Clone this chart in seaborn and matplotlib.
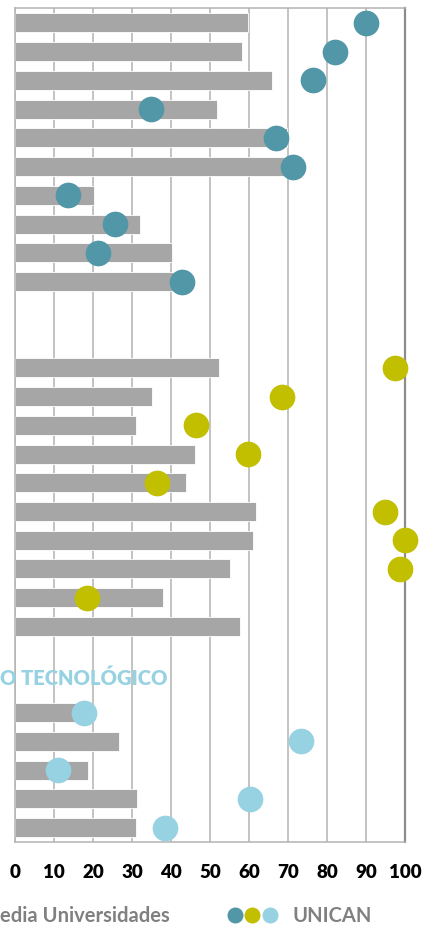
import numpy as np
import pandas as pd
import seaborn as sns
import matplotlib.pyplot as plt
from matplotlib.lines import Line2D
from matplotlib.legend_handler import HandlerTuple

# Media universidades (barras) y UNICAN (puntos), tres bloques de indicadores
media_1 = [59.7, 58.2, 65.8, 51.7, 69.8, 70.5, 20.2, 32.1, 40.2, 40.4]
unican_1 = [90.0, 82.0, 76.3, 34.8, 66.8, 71.3, 13.6, 25.6, 21.4, 42.9]

media_2 = [52.2, 35.1, 30.9, 46.1, 43.9, 61.7, 60.9, 55.2, 37.9, 57.8]
unican_2 = [97.5, 68.5, 46.3, 59.8, 36.4, 95.0, 100.0, 98.8, 18.4, np.nan]

media_3 = [17.0, 26.7, 18.6, 31.3, 30.9]
unican_3 = [17.7, 73.3, 11.0, 60.2, 38.4]

titulo_3 = "O TECNOLÓGICO"
etiqueta_media = "edia Universidades"
etiqueta_unican = "UNICAN"
xticks = list(range(0, 101, 10))

colores = {"b1": "#5197a8", "b2": "#c2be00", "b3": "#96d2e2"}
gris_barra = "#a6a6a6"
gris_grid = "#b3b3b3"
gris_texto = "#808080"

# tabla larga con una fila por indicador
rows = []
order = []
bloques = [("b1", media_1, unican_1), ("b2", media_2, unican_2), ("b3", media_3, unican_3)]
for k, (b, med, uni) in enumerate(bloques):
    for i, (m, u) in enumerate(zip(med, uni)):
        fila = f"{b}_{i:02d}"
        rows.append({"fila": fila, "bloque": b, "media": m, "unican": u})
        order.append(fila)
    if k < len(bloques) - 1:
        order += [f"{b}_hueco_a", f"{b}_hueco_b"]
df = pd.DataFrame(rows)

plt.rcParams['font.family'] = ['Lato', 'DejaVu Sans']

fig = plt.figure(figsize=(4.3, 9.25), dpi=100)
ax = fig.add_axes([15 / 430, 83 / 925, 390 / 430, 834 / 925])

sns.barplot(data=df, x="media", y="fila", order=order, orient="h",
            color=gris_barra, saturation=1, width=0.66, edgecolor="white",
            linewidth=0.6, ax=ax, zorder=2)
sns.stripplot(data=df.dropna(subset=["unican"]), x="unican", y="fila",
              order=order, hue="bloque", palette=colores, jitter=False,
              size=18.5, linewidth=0, legend=False, ax=ax, zorder=3,
              clip_on=False)

ax.set_xlim(0, 100)
ax.set_ylim(len(order) - 0.5, -0.52)
ax.set_xticks(xticks)
ax.set_xticklabels([str(t) for t in xticks], fontsize=13.5, fontweight="heavy", color="black")
ax.tick_params(axis="x", length=0, pad=16)
ax.set_yticks([])
ax.set_xlabel("")
ax.set_ylabel("")
ax.grid(axis="x", color=gris_grid, lw=1.1)
ax.grid(axis="y", visible=False)
ax.set_axisbelow(True)
for s in ["top", "left", "bottom"]:
    ax.spines[s].set_color(gris_grid)
    ax.spines[s].set_linewidth(1.1)
ax.spines["right"].set_color("#8c8c8c")
ax.spines["right"].set_linewidth(1.6)

fig.text(0, 1 - 678 / 925, titulo_3, color=colores["b3"], fontsize=14.5,
         fontweight="heavy", va="center", ha="left")

fig.text(0, 1 - 916 / 925, etiqueta_media, color=gris_texto, fontsize=14.5,
         fontweight="bold", va="center", ha="left")
handles = [tuple(Line2D([], [], marker="o", ls="", color=c, markersize=10.5)
                 for c in colores.values())]
ax.legend(handles, [etiqueta_unican], handler_map={tuple: HandlerTuple(ndivide=None, pad=0)},
          frameon=False, loc="center left", bbox_to_anchor=(208 / 430, 1 - 916 / 925),
          bbox_transform=fig.transFigure, handlelength=2.6, handletextpad=0.7,
          prop={"size": 14.5, "weight": "bold"}, labelcolor=gris_texto)

fig.savefig("out.png", dpi=100)
